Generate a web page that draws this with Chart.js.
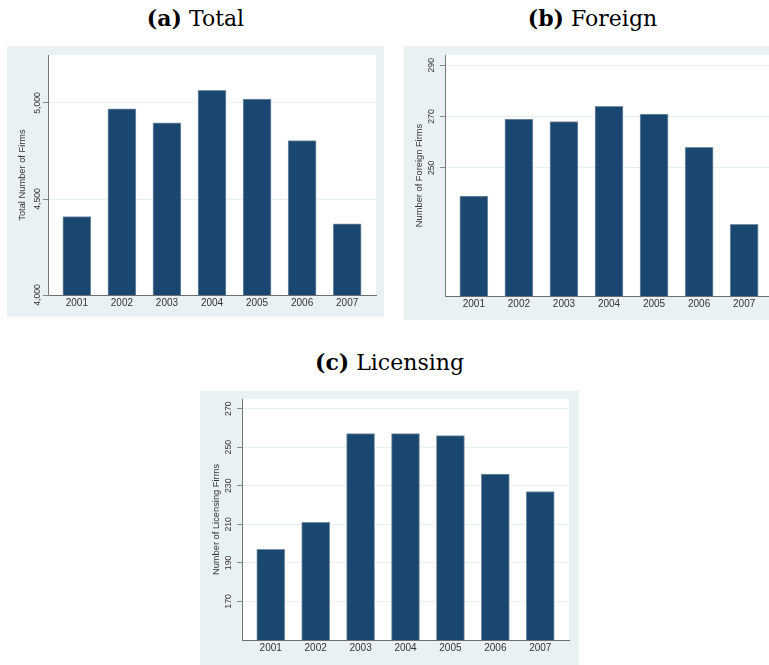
<!DOCTYPE html>
<html>
<head>
<meta charset="utf-8">
<script src="https://cdn.jsdelivr.net/npm/chart.js@4.4.1/dist/chart.umd.min.js"></script>
<style>
  body { margin: 0; width: 769px; height: 665px; overflow: hidden; background: #fff; position: relative; }
  .cap { position: absolute; text-align: center; font-family: "DejaVu Serif", serif; font-size: 22px; line-height: 26px; color: #000; }
  .panel { position: absolute; background: #eaf1f3; }
  .panel canvas { display: block; }
</style>
</head>
<body>
<div class="cap" style="left:7px;top:5px;width:377px"><b>(a)</b> Total</div>
<div class="cap" style="left:404px;top:5px;width:377px"><b>(b)</b> Foreign</div>
<div class="cap" style="left:200px;top:349px;width:379px"><b>(c)</b> Licensing</div>
<div class="panel" style="left:7px;top:46px"><canvas id="total" width="377" height="271"></canvas></div>
<div class="panel" style="left:404px;top:46px"><canvas id="foreign" width="377" height="274"></canvas></div>
<div class="panel" style="left:200px;top:391px"><canvas id="licensing" width="379" height="274"></canvas></div>
<script>
const years = [2001, 2002, 2003, 2004, 2005, 2006, 2007];
const totalFirms = [4408, 4969, 4897, 5066, 5021, 4804, 4371];
const foreignFirms = [239, 269, 268, 274, 271, 258, 228];
const licensingFirms = [197, 211, 257, 257, 256, 236, 227];
const totalTicks = [4000, 4500, 5000];
const foreignTicks = [250, 270, 290];
const licensingTicks = [170, 190, 210, 230, 250, 270];

// white plot region inside the grey panel
const plotBg = {
  id: 'plotBg',
  beforeDraw(chart) {
    const {ctx, chartArea: a} = chart;
    ctx.save();
    ctx.fillStyle = '#ffffff';
    ctx.fillRect(a.left, a.top, a.width, a.height);
    ctx.restore();
  }
};

function barPanel(id, values, yTicks, yMin, yMax, yTitle, o) {
  return new Chart(document.getElementById(id), {
    type: 'bar',
    data: {
      datasets: [{
        data: years.map((y, i) => ({x: y, y: values[i]})),
        backgroundColor: '#1a476f',
        borderColor: '#7890a6',
        borderWidth: 1,
        barThickness: 28
      }]
    },
    options: {
      responsive: false,
      animation: false,
      layout: { padding: { top: o.top, right: o.right, left: 0, bottom: 0 } },
      plugins: { legend: { display: false }, tooltip: { enabled: false } },
      scales: {
        x: {
          type: 'linear',
          offset: false,
          min: 2000.36,
          max: 2007.64,
          afterBuildTicks: s => { s.ticks = years.map(v => ({value: v})); },
          afterFit: s => { s.height = o.bottom; },
          grid: { display: false, drawTicks: false },
          border: { color: '#6e6e6e', width: 1 },
          ticks: {
            padding: 2,
            color: '#333',
            font: { family: 'Liberation Sans', size: 10 },
            callback: v => String(v)
          }
        },
        y: {
          min: yMin,
          max: yMax,
          afterBuildTicks: s => { s.ticks = yTicks.map(v => ({value: v})); },
          afterFit: s => { s.width = o.left; },
          grid: { color: '#e8eff2', tickColor: '#888', tickLength: 5 },
          border: { color: '#777', width: 1 },
          ticks: {
            minRotation: 90,
            maxRotation: 90,
            crossAlign: 'center',
            padding: o.tickPad,
            color: '#333',
            font: { family: 'Liberation Sans', size: 8.7 },
            callback: v => v.toLocaleString('en-US')
          },
          title: {
            display: true,
            text: yTitle,
            color: '#333',
            font: { family: 'Liberation Sans', size: 9.3 },
            padding: { top: o.titlePad, bottom: 0 }
          }
        }
      }
    },
    plugins: [plotBg]
  });
}

barPanel('total', totalFirms, totalTicks, 4000, 5250, 'Total Number of Firms',
  { top: 9, right: 8, bottom: 22, left: 41, tickPad: -5.9, titlePad: 9.4 });
barPanel('foreign', foreignFirms, foreignTicks, 200, 294, 'Number of Foreign Firms',
  { top: 9, right: 8, bottom: 24, left: 41, tickPad: 0.8, titlePad: 9.4 });
barPanel('licensing', licensingFirms, licensingTicks, 150, 275, 'Number of Licensing Firms',
  { top: 8, right: 10, bottom: 25, left: 42, tickPad: 0.8, titlePad: 10.4 });
</script>
</body>
</html>
